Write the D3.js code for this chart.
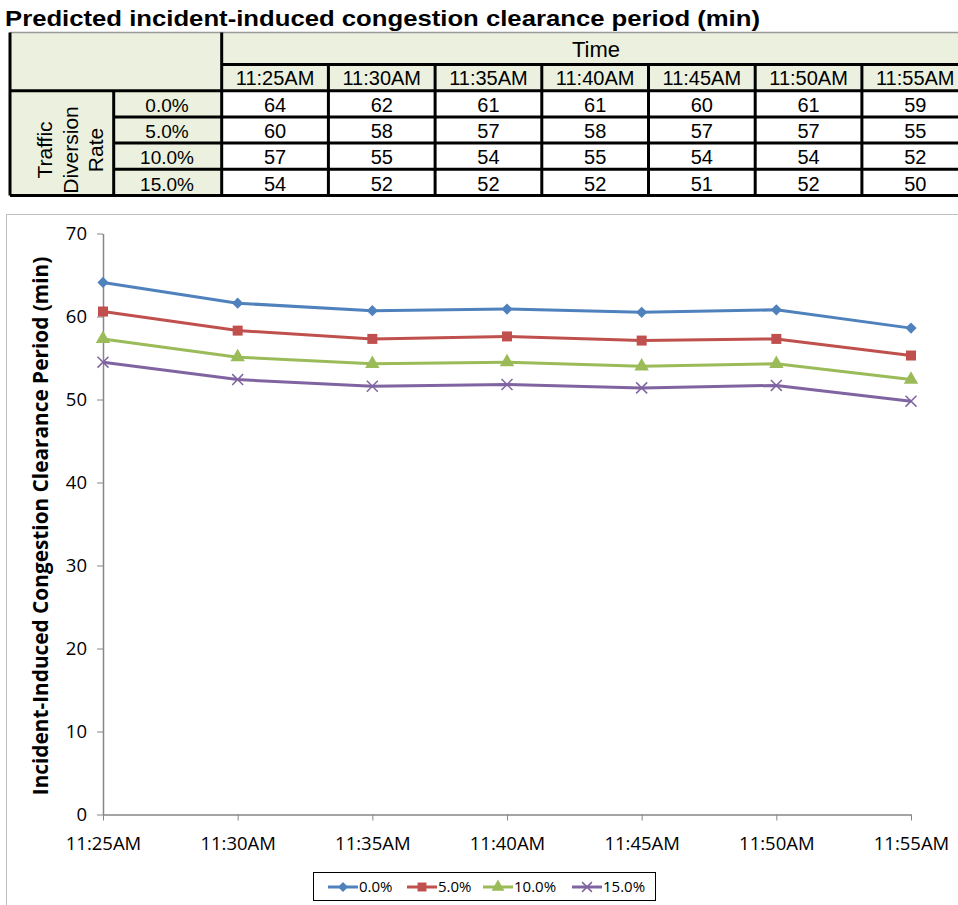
<!DOCTYPE html>
<html>
<head>
<meta charset="utf-8">
<script src="https://d3js.org/d3.v7.min.js"></script>
<style>
  body { margin: 0; background: #fff; }
  svg { display: block; }
</style>
</head>
<body>
<div id="my_dataviz"></div>
<script>
// data
var times = ["11:25AM", "11:30AM", "11:35AM", "11:40AM", "11:45AM", "11:50AM", "11:55AM"];
var rates = ["0.0%", "5.0%", "10.0%", "15.0%"];

// rounded values printed in the table
var table0 = [64, 62, 61, 61, 60, 61, 59];
var table5 = [60, 58, 57, 58, 57, 57, 55];
var table10 = [57, 55, 54, 55, 54, 54, 52];
var table15 = [54, 52, 52, 52, 51, 52, 50];

// unrounded values as plotted
var series0 = [64.1, 61.6, 60.7, 60.9, 60.5, 60.8, 58.6];
var series5 = [60.6, 58.3, 57.3, 57.6, 57.1, 57.3, 55.3];
var series10 = [57.3, 55.1, 54.3, 54.5, 54.0, 54.3, 52.4];
var series15 = [54.5, 52.4, 51.6, 51.8, 51.4, 51.7, 49.8];

var yTicks = [0, 10, 20, 30, 40, 50, 60, 70];

var colors = ["#4F81BD", "#C0504D", "#9BBB59", "#8064A2"];
var markers = ["diamond", "square", "triangle", "x"];

var width = 958, height = 905;
var tableFont = "'Liberation Sans', Arial, sans-serif";
var chartFont = "'Open Sans', 'Noto Sans', sans-serif";
var lightGreen = "#EBF1DE";

function init(){
    var svg = d3.select("#my_dataviz")
    .append("svg")
    .attr("width", width)
    .attr("height", height);

    createTable(svg);
    createLineChart(svg);
}


function createTable(svg){
    var tableValues = [table0, table5, table10, table15];

    // title
    svg.append("text")
    .attr("x", 5)
    .attr("y", 26)
    .attr("textLength", 755)
    .attr("lengthAdjust", "spacingAndGlyphs")
    .style("font-family", tableFont)
    .style("font-weight", "bold")
    .style("font-size", "22px")
    .text("Predicted incident-induced congestion clearance period (min)");

    var left = 10, split = 113.7, colStart = 221.7, colW = 106.7;
    var top = 32.5, headMid = 64.5, headBottom = 90.7, bottom = 195.5;

    var col = d3.scaleBand()
    .domain(times)
    .range([colStart, colStart + colW * times.length]);

    var row = d3.scaleBand()
    .domain(rates)
    .range([headBottom, bottom]);

    var g = svg.append("g");

    // backgrounds
    g.append("rect")
    .attr("x", left).attr("y", top)
    .attr("width", width + 20 - left).attr("height", headBottom - top)
    .attr("fill", lightGreen);
    g.append("rect")
    .attr("x", left).attr("y", headBottom)
    .attr("width", colStart - left).attr("height", bottom - headBottom)
    .attr("fill", lightGreen);

    // grid lines
    var lines = [];
    lines.push([left, top, width + 20, top, "#999", 1.5]);
    lines.push([colStart, headMid, width + 20, headMid, "#000", 3]);
    lines.push([left, headBottom, width + 20, headBottom, "#000", 3]);
    rates.forEach(function(r, i){
        if (i > 0) lines.push([split, row(r), width + 20, row(r), "#000", 3]);
    });
    lines.push([left, bottom, width + 20, bottom, "#000", 3]);
    lines.push([left, top, left, bottom, "#000", 3]);
    lines.push([split, headBottom, split, bottom, "#000", 3]);
    lines.push([colStart, top, colStart, bottom, "#000", 3]);
    times.forEach(function(t, i){
        if (i > 0) lines.push([col(t), headMid, col(t), bottom, "#000", 3]);
    });

    g.selectAll("line.grid")
    .data(lines)
    .enter()
    .append("line")
        .attr("class", "grid")
        .attr("x1", d => d[0]).attr("y1", d => d[1])
        .attr("x2", d => d[2]).attr("y2", d => d[3])
        .attr("stroke", d => d[4])
        .attr("stroke-width", d => d[5]);

    // header texts
    g.append("text")
    .attr("x", 596).attr("y", 57)
    .attr("text-anchor", "middle")
    .style("font-family", tableFont).style("font-size", "22px")
    .text("Time");

    g.selectAll("text.time")
    .data(times)
    .enter()
    .append("text")
        .attr("class", "time")
        .attr("x", d => col(d) + col.bandwidth() / 2)
        .attr("y", 85)
        .attr("text-anchor", "middle")
        .style("font-family", tableFont).style("font-size", "20px")
        .text(d => d);

    // row labels
    g.selectAll("text.rate")
    .data(rates)
    .enter()
    .append("text")
        .attr("class", "rate")
        .attr("x", 167)
        .attr("y", d => row(d) + row.bandwidth() - 5)
        .attr("text-anchor", "middle")
        .style("font-family", tableFont).style("font-size", "19px")
        .text(d => d);

    var side = g.append("text")
    .attr("transform", "translate(0,150) rotate(-90)")
    .attr("text-anchor", "middle")
    .style("font-family", tableFont).style("font-size", "21px");
    side.selectAll("tspan")
    .data(["Traffic", "Diversion", "Rate"])
    .enter()
    .append("tspan")
        .attr("x", 0)
        .attr("y", (d, i) => 52 + i * 25.5)
        .text(d => d);

    // values
    tableValues.forEach(function(vals, i){
        g.selectAll("text.v" + i)
        .data(vals)
        .enter()
        .append("text")
            .attr("x", (d, j) => col(times[j]) + col.bandwidth() / 2)
            .attr("y", row(rates[i]) + row.bandwidth() - 5)
            .attr("text-anchor", "middle")
            .style("font-family", tableFont).style("font-size", "20px")
            .text(d => d);
    });
}


function createLineChart(svg){
    var allSeries = [series0, series5, series10, series15];

    // chart frame
    svg.append("rect")
    .attr("x", 6.5).attr("y", 214.5)
    .attr("width", width + 20).attr("height", height)
    .attr("fill", "none")
    .attr("stroke", "#BFBFBF");

    var x = d3.scalePoint()
    .domain(times)
    .range([103, 911]);

    var y = d3.scaleLinear()
    .domain([0, 70])
    .range([814.5, 233.5]);

    var axisColor = "#868686";

    // Add Y axis
    var yAxis = svg.append("g")
    .attr("transform", "translate(103,0)")
    .call(d3.axisLeft(y).tickValues(yTicks).tickSize(6).tickPadding(10).tickSizeOuter(0));
    yAxis.select(".domain").attr("stroke", axisColor).attr("stroke-width", 1.5);
    yAxis.selectAll(".tick line").attr("stroke", axisColor);
    yAxis.selectAll(".tick text")
    .style("font-family", chartFont).style("font-size", "18.5px").attr("fill", "#000");

    // Add X axis
    var xAxis = svg.append("g")
    .attr("transform", "translate(0,814.5)")
    .call(d3.axisBottom(x).tickSize(6).tickPadding(16).tickSizeOuter(0));
    xAxis.select(".domain").attr("stroke", axisColor).attr("stroke-width", 1.5);
    xAxis.selectAll(".tick line").attr("stroke", axisColor);
    xAxis.selectAll(".tick text")
    .style("font-family", chartFont).style("font-size", "18.5px").attr("fill", "#000");

    // y axis title
    svg.append("text")
    .attr("transform", "translate(48,526) rotate(-90)")
    .attr("text-anchor", "middle")
    .style("font-family", chartFont)
    .style("font-weight", "bold")
    .style("font-size", "20.8px")
    .text("Incident-Induced Congestion Clearance Period (min)");

    var line = d3.line()
    .x((d, i) => x(times[i]))
    .y(d => y(d));

    allSeries.forEach(function(vals, s){
        svg.append("path")
        .datum(vals)
        .attr("d", line)
        .attr("fill", "none")
        .attr("stroke", colors[s])
        .attr("stroke-width", 3)
        .attr("stroke-linejoin", "round");

        svg.append("g")
        .selectAll("path")
        .data(vals)
        .enter()
        .append("path")
            .attr("transform", (d, i) => "translate(" + x(times[i]) + "," + y(d) + ")")
            .call(drawMarker, s);
    });

    // legend
    var lg = svg.append("g");
    lg.append("rect")
    .attr("x", 313.5).attr("y", 872.5)
    .attr("width", 342).attr("height", 28)
    .attr("fill", "#fff")
    .attr("stroke", "#000");

    var legX = d3.scaleOrdinal()
    .domain(rates)
    .range([328, 407, 483, 572]);

    rates.forEach(function(r, s){
        var x0 = legX(r);
        lg.append("line")
        .attr("x1", x0).attr("x2", x0 + 30)
        .attr("y1", 887).attr("y2", 887)
        .attr("stroke", colors[s]).attr("stroke-width", 3);
        lg.append("path")
        .attr("transform", "translate(" + (x0 + 15) + ",887)")
        .call(drawMarker, s, 0.8);
        lg.append("text")
        .attr("x", x0 + 31).attr("y", 892)
        .style("font-family", chartFont).style("font-size", "15px")
        .text(r);
    });
}


function drawMarker(sel, s, k){
    k = k || 1;
    var kind = markers[s];
    if (kind == "diamond") {
        sel.attr("d", d3.symbol(d3.symbolDiamond2, 80 * k)())
        .attr("fill", colors[s]);
    } else if (kind == "square") {
        sel.attr("d", d3.symbol(d3.symbolSquare, 100 * k)())
        .attr("fill", colors[s]);
    } else if (kind == "triangle") {
        sel.attr("d", d3.symbol(d3.symbolTriangle, 90 * k)())
        .attr("fill", colors[s]);
    } else {
        sel.attr("d", d3.symbol(d3.symbolTimes, 80 * k)())
        .attr("fill", "none")
        .attr("stroke", colors[s])
        .attr("stroke-width", 1.5);
    }
}

init();
</script>
</body>
</html>
